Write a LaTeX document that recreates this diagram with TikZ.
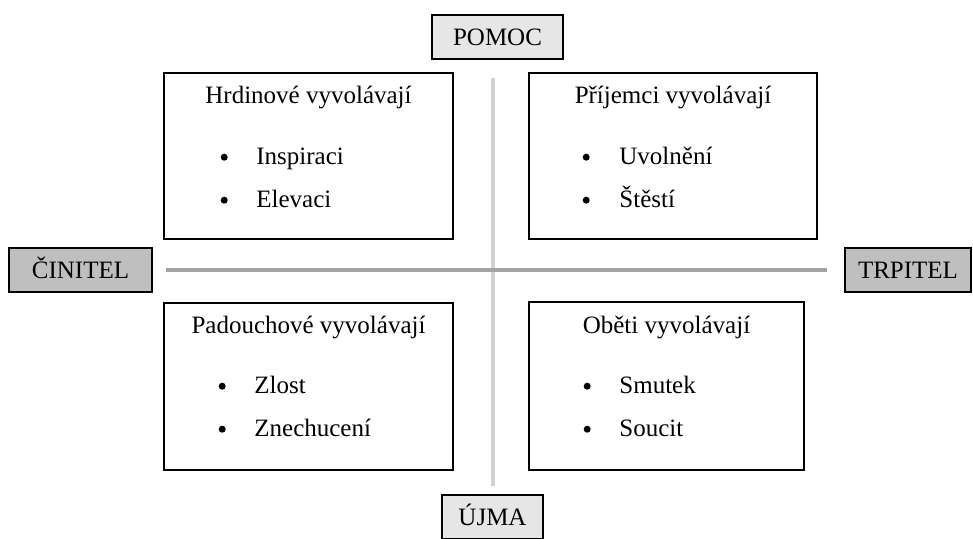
\documentclass[tikz,border=0pt]{standalone}
\usepackage{fontspec}
\setmainfont{Liberation Serif}
\usetikzlibrary{positioning}

\definecolor{polelight}{HTML}{E6E6E6}
\definecolor{poledark}{HTML}{BFBFBF}
\definecolor{axisdark}{HTML}{A3A3A3}
\definecolor{axislight}{HTML}{D2D2D2}

\begin{document}
\begin{tikzpicture}[x=1pt, y=-1pt,
  every node/.style={font=\fontsize{25}{30}\selectfont, inner sep=0pt},
  pole/.style={draw=black, line width=1.6pt, minimum height=44pt, text height=16.5pt, text depth=0pt},
  quadrant/.style={draw=black, line width=1.6pt, fill=white},
  heading/.style={anchor=base},
  dot/.style={circle, fill=black, minimum size=7pt},
  item/.style={anchor=base west}]
\useasboundingbox (0,0) rectangle (973,538);

% poles
\node[pole, fill=polelight, minimum width=131pt] (pomoc) at (497.5,37) {POMOC};
\node[pole, fill=polelight, minimum width=101pt] (ujma) at (492.5,517) {ÚJMA};
\node[pole, fill=poledark, minimum width=143pt] (cinitel) at (80.5,270) {ČINITEL};
\node[pole, fill=poledark, minimum width=126pt] (trpitel) at (908,270) {TRPITEL};

% axes
\coordinate (vtop) at ([yshift=-18pt]pomoc.south);
\draw[axislight, line width=4pt] (vtop -| ujma) -- ([yshift=8pt]ujma.north);
\draw[axisdark, line width=4pt, shorten <=13pt, shorten >=17pt] (cinitel) -- (trpitel);

% quadrants
\node[quadrant, minimum width=289pt, minimum height=166pt] (hrdinove) at (308.5,156) {};
\node[quadrant, minimum width=288pt, minimum height=166pt] (prijemci) at (673,156) {};
\node[quadrant, minimum width=289pt, minimum height=167pt] (padouchove) at (308.5,386.5) {};
\node[quadrant, minimum width=275pt, minimum height=168pt] (obeti) at (666.5,386) {};

\node[heading] (hrdinovetitle) at ([yshift=-31pt]hrdinove.north) {Hrdinové vyvolávají};
\node[dot] (hrdinovedot1) at ([xshift=61pt,yshift=-85pt]hrdinove.north west) {};
\node[item] (hrdinoveitem1) at ([xshift=93pt,yshift=-92pt]hrdinove.north west) {Inspiraci};
\node[dot] (hrdinovedot2) at ([xshift=61pt,yshift=-128pt]hrdinove.north west) {};
\node[item] (hrdinoveitem2) at ([xshift=93pt,yshift=-135pt]hrdinove.north west) {Elevaci};

\node[heading] (prijemcititle) at ([yshift=-31pt]prijemci.north) {Příjemci vyvolávají};
\node[dot] (prijemcidot1) at ([xshift=58pt,yshift=-85pt]prijemci.north west) {};
\node[item] (prijemciitem1) at ([xshift=91pt,yshift=-92pt]prijemci.north west) {Uvolnění};
\node[dot] (prijemcidot2) at ([xshift=58pt,yshift=-128pt]prijemci.north west) {};
\node[item] (prijemciitem2) at ([xshift=91pt,yshift=-135pt]prijemci.north west) {Štěstí};

\node[heading] (padouchovetitle) at ([yshift=-31pt]padouchove.north) {Padouchové vyvolávají};
\node[dot] (padouchovedot1) at ([xshift=59pt,yshift=-84pt]padouchove.north west) {};
\node[item] (padouchoveitem1) at ([xshift=91pt,yshift=-91pt]padouchove.north west) {Zlost};
\node[dot] (padouchovedot2) at ([xshift=59pt,yshift=-127pt]padouchove.north west) {};
\node[item] (padouchoveitem2) at ([xshift=91pt,yshift=-134pt]padouchove.north west) {Znechucení};

\node[heading] (obetititle) at ([yshift=-32pt]obeti.north) {Oběti vyvolávají};
\node[dot] (obetidot1) at ([xshift=59pt,yshift=-85pt]obeti.north west) {};
\node[item] (obetiitem1) at ([xshift=91pt,yshift=-92pt]obeti.north west) {Smutek};
\node[dot] (obetidot2) at ([xshift=59pt,yshift=-128pt]obeti.north west) {};
\node[item] (obetiitem2) at ([xshift=91pt,yshift=-135pt]obeti.north west) {Soucit};
\end{tikzpicture}
\end{document}
